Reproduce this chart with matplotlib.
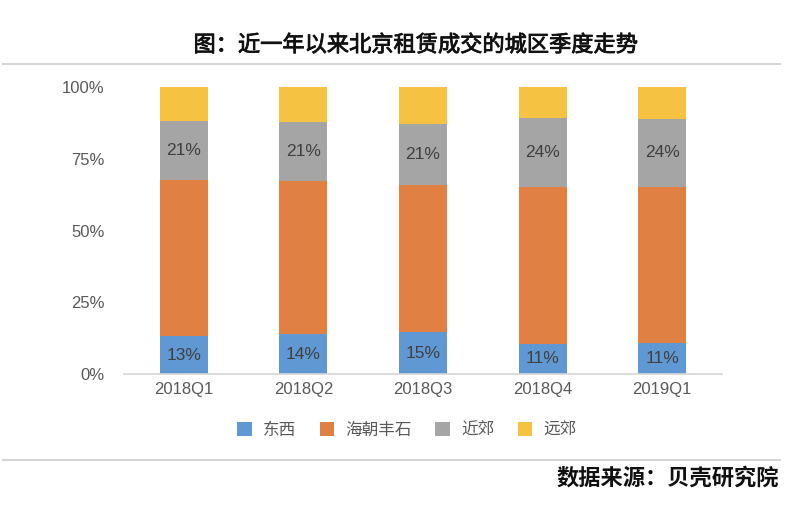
"""北京租赁成交城区季度走势 - 百分比堆积柱状图."""

import matplotlib

matplotlib.use("Agg")

import matplotlib.patheffects as pe
import matplotlib.pyplot as plt
from matplotlib.lines import Line2D
from matplotlib.patches import Patch

plt.rcParams["font.family"] = ["Liberation Sans", "Noto Sans CJK SC", "DejaVu Sans"]

quarters = ["2018Q1", "2018Q2", "2018Q3", "2018Q4", "2019Q1"]
series_names = ["东西", "海朝丰石", "近郊", "远郊"]
dongxi = [13.2, 13.9, 14.6, 10.6, 10.7]
haichao = [54.5, 53.4, 51.1, 54.7, 54.6]
jinjiao = [20.6, 20.6, 21.4, 23.9, 23.6]
yuanjiao = [11.7, 12.1, 12.9, 10.8, 11.1]

COLORS = ["#5F98D3", "#E08043", "#A5A5A5", "#F6C242"]
TEXT_GREY = "#595959"
LINE_GREY = "#D6D6D6"

fig = plt.figure(figsize=(8, 5.05), dpi=100)
ax = fig.add_axes([0.155, 0.2594, 0.7475, 0.5683])

x = list(range(len(quarters)))
bottom = [0.0] * len(quarters)
containers = []
for values, color in zip([dongxi, haichao, jinjiao, yuanjiao], COLORS):
    bars = ax.bar(x, values, width=0.4, bottom=bottom, color=color, linewidth=0)
    containers.append(bars)
    bottom = [b + v for b, v in zip(bottom, values)]

# 只标注东西和近郊
for idx, values in ((0, dongxi), (2, jinjiao)):
    ax.bar_label(
        containers[idx],
        labels=[f"{v:.0f}%" for v in values],
        label_type="center",
        fontsize=12.5,
        color="#404040",
    )

ax.set_xlim(-0.5, len(quarters) - 0.5)
ax.set_ylim(0, 100)
ax.set_yticks([0, 25, 50, 75, 100], ["0%", "25%", "50%", "75%", "100%"])
ax.set_xticks(x, quarters)
ax.tick_params(axis="y", length=0, pad=14, labelsize=12, labelcolor=TEXT_GREY)
ax.tick_params(axis="x", length=0, pad=6, labelsize=12, labelcolor=TEXT_GREY)
for side in ("top", "right", "left"):
    ax.spines[side].set_visible(False)
ax.spines["bottom"].set_color(LINE_GREY)
ax.spines["bottom"].set_linewidth(1.2)

handles = [Patch(facecolor=c, edgecolor="none") for c in COLORS]
fig.legend(
    handles,
    series_names,
    loc="center",
    bbox_to_anchor=(0.509, 1 - 430 / 505),
    ncol=4,
    frameon=False,
    fontsize=12,
    labelcolor=TEXT_GREY,
    handlelength=0.85,
    handleheight=0.85,
    handletextpad=0.7,
    columnspacing=1.4,
)

fig.text(
    0.52, 1 - 45 / 505, "图：近一年以来北京租赁成交的城区季度走势",
    ha="center", va="center", fontsize=16,
    family=["Noto Sans CJK SC"], color="#111111",
    path_effects=[pe.withStroke(linewidth=0.6, foreground="#111111")],
)
fig.text(
    0.974, 1 - 478 / 505, "数据来源：贝壳研究院",
    ha="right", va="center", fontsize=16, fontweight="bold",
    family=["Noto Sans CJK SC"], color="#111111",
)

for ypix in (64, 460):
    fig.add_artist(Line2D(
        [0.004, 0.975], [1 - ypix / 505] * 2,
        transform=fig.transFigure, color=LINE_GREY, linewidth=1.5,
    ))

fig.savefig("out.png", dpi=100)
